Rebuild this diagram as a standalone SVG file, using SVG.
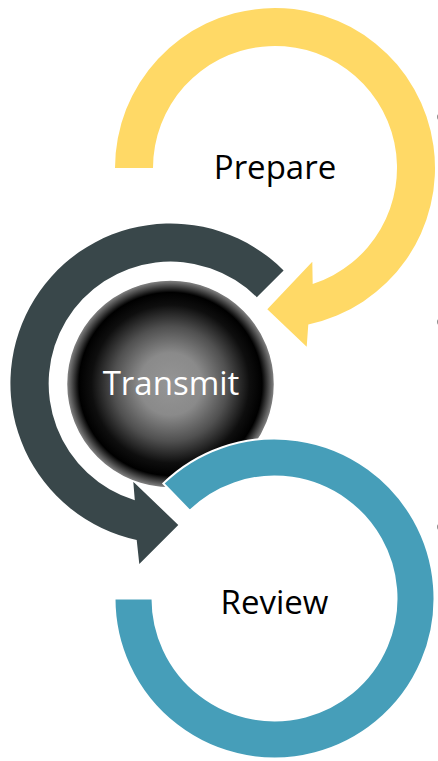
<svg xmlns="http://www.w3.org/2000/svg" width="438" height="761" viewBox="0 0 438 761">
  <defs>
    <style>
      .lbl { font-family: "Open Sans", "Liberation Sans", sans-serif; font-size: 33px; text-anchor: middle; }
      .dark { fill: #000000; }
      .light { fill: #ffffff; }
      .mark { fill: #8c8c8c; }
    </style>
    <radialGradient id="sphere" cx="0.5" cy="0.5" r="0.5">
      <stop offset="0" stop-color="#959595"/>
      <stop offset="0.3" stop-color="#8a8a8a"/>
      <stop offset="0.55" stop-color="#505050"/>
      <stop offset="0.76" stop-color="#0e0e0e"/>
      <stop offset="0.88" stop-color="#000000"/>
      <stop offset="1" stop-color="#8a8a8a"/>
    </radialGradient>
  </defs>
  <rect width="438" height="761" fill="#ffffff"/>

  <g id="connectors">
    <g id="prepare-arrow">
      <path fill="#FFD966" d="M115,168 A160,160 0 1 1 308.3,324.5 L306.7,346.7 L267.3,309.3 L312.3,261.7 L312.7,284 A122,122 0 1 0 153,168 Z"/>
    </g>
    <g id="transmit-arrow">
      <path fill="#39474A" d="M283.6,270.4 A160,160 0 1 0 136.7,539.9 L139.3,564 L178.3,525 L133.3,481.7 L134.8,500.2 A122,122 0 1 1 256.8,297.2 Z"/>
    </g>
  </g>

  <g id="node-prepare">
    <text class="lbl dark" x="275" y="179">Prepare</text>
  </g>

  <g id="node-transmit">
    <circle cx="170.5" cy="384" r="104" fill="url(#sphere)" stroke="#ffffff" stroke-width="1.5"/>
    <text class="lbl light" x="171" y="395">Transmit</text>
  </g>

  <g id="node-review">
    <path fill="#469EB9" stroke="#ffffff" stroke-width="2" stroke-linejoin="miter" d="M114.5,598.5 A160,160 0 1 0 163.35,483.4 L189.75,510.75 A122,122 0 1 1 152.5,598.5 Z"/>
    <text class="lbl dark" x="274.5" y="614">Review</text>
  </g>

  <g id="edge-marks">
    <circle class="mark" cx="440.5" cy="117" r="3.5"/>
    <circle class="mark" cx="440.5" cy="322" r="3.5"/>
    <circle class="mark" cx="440.5" cy="527" r="3.5"/>
  </g>
</svg>
